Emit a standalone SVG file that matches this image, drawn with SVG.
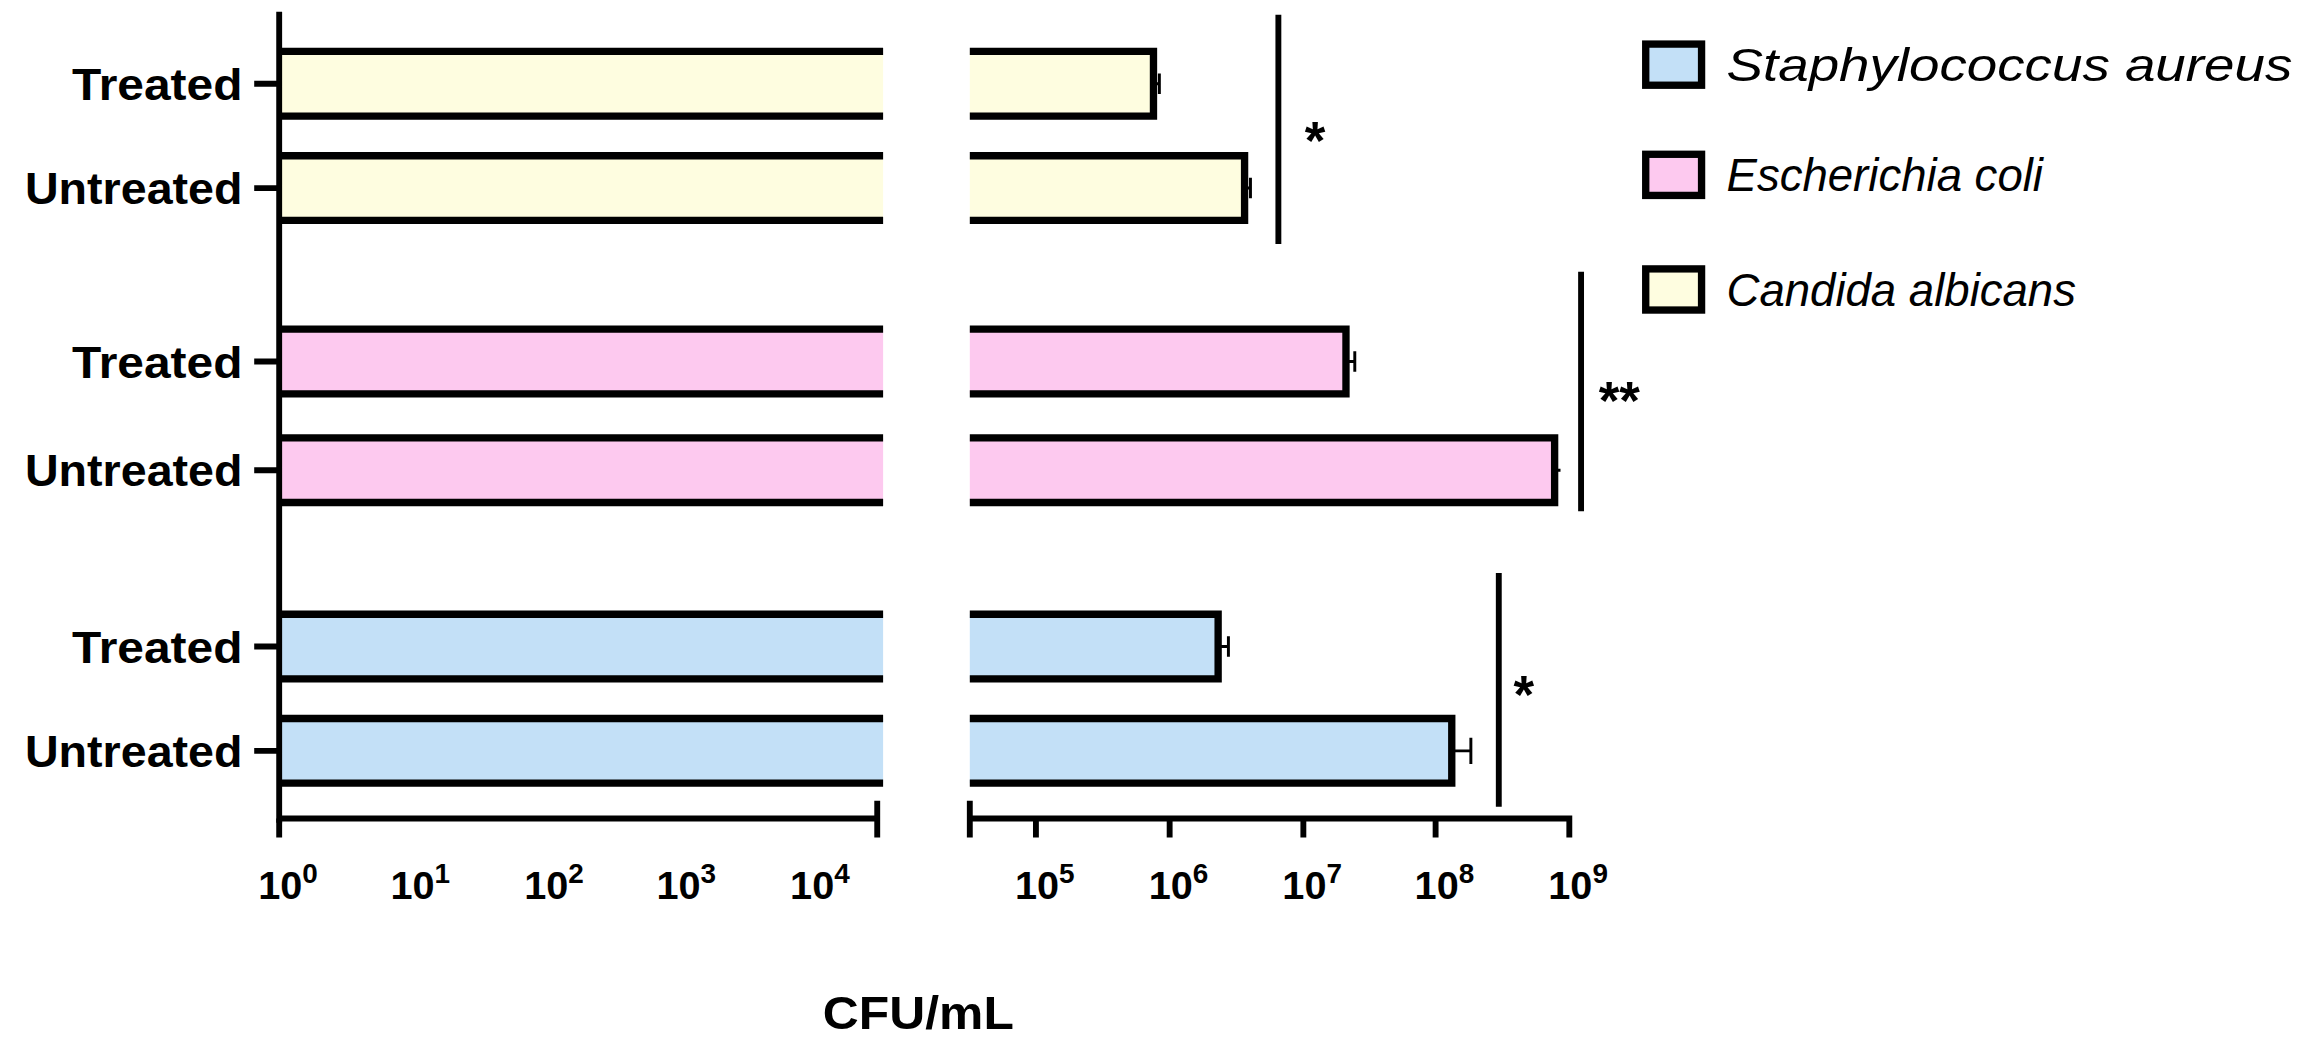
<svg xmlns="http://www.w3.org/2000/svg" width="2304" height="1063" viewBox="0 0 2304 1063">
<style>
.ln{stroke:#000;stroke-width:5;fill:none}
.bar{stroke:#000;stroke-width:5}
.sa{fill:#c3e0f7}.ec{fill:#fdc9ef}.ca{fill:#fefde0}
.ax{stroke:#000;stroke-width:4;fill:none}
.lbl{font-family:"Liberation Sans",Arial,sans-serif;font-weight:bold;font-size:30px;text-anchor:end}
.tk{font-family:"Liberation Sans",Arial,sans-serif;font-weight:bold;font-size:27px;text-anchor:middle}
.leg{font-family:"Liberation Sans",Arial,sans-serif;font-style:italic;font-size:31px}
.st{font-family:"Liberation Sans",Arial,sans-serif;font-weight:bold;font-size:36px}
</style>
<rect width="2304" height="1063" fill="#fff"/>
<g transform="scale(1.4694)">
<g id="bars">
<rect class="ca" x="190" y="35" width="411" height="44"/><rect class="ca" x="660" y="35" width="125" height="44"/>
<rect class="ca" x="190" y="106" width="411" height="44"/><rect class="ca" x="660" y="106" width="187" height="44"/>
<rect class="ec" x="190" y="224" width="411" height="44"/><rect class="ec" x="660" y="224" width="256" height="44"/>
<rect class="ec" x="190" y="298" width="411" height="44"/><rect class="ec" x="660" y="298" width="398" height="44"/>
<rect class="sa" x="190" y="418" width="411" height="44"/><rect class="sa" x="660" y="418" width="169" height="44"/>
<rect class="sa" x="190" y="489" width="411" height="44"/><rect class="sa" x="660" y="489" width="328" height="44"/>
<path class="ln" d="M190 35H601M190 79H601M660 35H785V79H660 M190 106H601M190 150H601M660 106H847V150H660 M190 224H601M190 268H601M660 224H916V268H660 M190 298H601M190 342H601M660 298H1058V342H660 M190 418H601M190 462H601M660 418H829V462H660 M190 489H601M190 533H601M660 489H988V533H660"/>
<g class="ax" style="stroke-width:2">
<path d="M785 57H789M789 50V64M847 128H851M851 121V135M916 246H922M922 239V253M1058 320H1062M829 440H836M836 433V447M988 511H1001M1001 502V520"/>
</g>
</g>
<g id="axes" class="ax">
<path d="M190 8V560M173 57H190M173 128H190M173 246H190M173 320H190M173 440H190M173 511H190"/>
<path d="M190 557H597M597 545V570M190 557V570"/>
<path d="M660 557H1070M660 545V570M705 557V570M796 557V570M887 557V570M977 557V570M1068 557V570"/>
<path d="M870 10V166M1076 185V348M1020 390V549"/>
</g>
<g id="labels">
<text class="lbl" x="165" y="68" textLength="116" lengthAdjust="spacingAndGlyphs">Treated</text>
<text class="lbl" x="165" y="139" textLength="148" lengthAdjust="spacingAndGlyphs">Untreated</text>
<text class="lbl" x="165" y="257" textLength="116" lengthAdjust="spacingAndGlyphs">Treated</text>
<text class="lbl" x="165" y="331" textLength="148" lengthAdjust="spacingAndGlyphs">Untreated</text>
<text class="lbl" x="165" y="451" textLength="116" lengthAdjust="spacingAndGlyphs">Treated</text>
<text class="lbl" x="165" y="522" textLength="148" lengthAdjust="spacingAndGlyphs">Untreated</text>
<text class="tk" x="196" y="612">10<tspan dy="-11" font-size="19">0</tspan></text>
<text class="tk" x="286" y="612">10<tspan dy="-11" font-size="19">1</tspan></text>
<text class="tk" x="377" y="612">10<tspan dy="-11" font-size="19">2</tspan></text>
<text class="tk" x="467" y="612">10<tspan dy="-11" font-size="19">3</tspan></text>
<text class="tk" x="558" y="612">10<tspan dy="-11" font-size="19">4</tspan></text>
<text class="tk" x="711" y="612">10<tspan dy="-11" font-size="19">5</tspan></text>
<text class="tk" x="802" y="612">10<tspan dy="-11" font-size="19">6</tspan></text>
<text class="tk" x="893" y="612">10<tspan dy="-11" font-size="19">7</tspan></text>
<text class="tk" x="983" y="612">10<tspan dy="-11" font-size="19">8</tspan></text>
<text class="tk" x="1074" y="612">10<tspan dy="-11" font-size="19">9</tspan></text>
<text class="tk" x="625" y="700" style="font-size:32px" textLength="130" lengthAdjust="spacingAndGlyphs">CFU/mL</text>
<text class="st" x="888" y="108">*</text>
<text class="st" x="1088" y="285">**</text>
<text class="st" x="1030" y="485">*</text>
</g>
<g id="legend">
<rect class="bar sa" x="1120" y="30" width="38" height="28"/>
<rect class="bar ec" x="1120" y="105" width="38" height="28"/>
<rect class="bar ca" x="1120" y="183" width="38" height="28"/>
<text class="leg" x="1175" y="55" textLength="385" lengthAdjust="spacingAndGlyphs">Staphylococcus aureus</text>
<text class="leg" x="1175" y="130">Escherichia coli</text>
<text class="leg" x="1175" y="208">Candida albicans</text>
</g>
</g>
</svg>
